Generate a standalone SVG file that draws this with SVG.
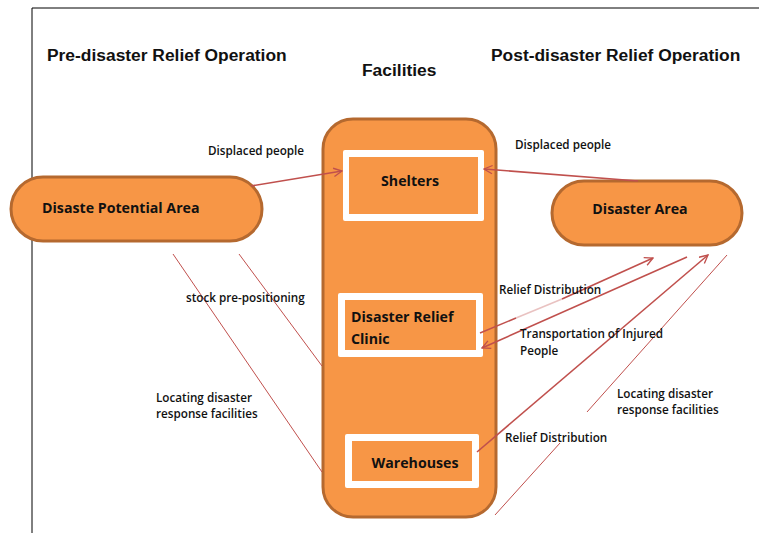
<svg xmlns="http://www.w3.org/2000/svg" width="759" height="533" viewBox="0 0 759 533">
<style>
.title{font-family:"Liberation Sans",Arial,sans-serif;font-weight:bold;font-size:17.4px;fill:#111}
.node{fill:#F79646;stroke:#B5692F;stroke-width:3}
.white{fill:#FFFFFF}
.inner{fill:#F79646}
.ntext{font-family:"Open Sans","Liberation Sans",sans-serif;font-weight:bold;font-size:14.2px;fill:#111}
.lbl{font-family:"Open Sans","Liberation Sans",sans-serif;font-weight:600;font-size:11.7px;fill:#111}
.arr{stroke:#C0504D;stroke-width:1.6;fill:none}
.thin{stroke:#C0504D;stroke-width:1;fill:none}
</style>
<defs>
<marker id="ah" viewBox="0 0 12 12" refX="11" refY="6" markerWidth="10" markerHeight="10" markerUnits="userSpaceOnUse" orient="auto">
<path d="M1,1 L11,6 L1,11" fill="none" stroke="#C0504D" stroke-width="1.6"/>
</marker>
</defs>
<rect width="759" height="533" fill="#FFFFFF"/>
<g id="frame">
<line x1="32" y1="8" x2="759" y2="8" stroke="#000" stroke-width="1"/>
<line x1="32" y1="8" x2="32" y2="533" stroke="#000" stroke-width="1"/>
</g>
<g id="titles">
<text class="title" x="47" y="61">Pre-disaster Relief Operation</text>
<text class="title" x="362" y="76">Facilities</text>
<text class="title" x="491" y="61">Post-disaster Relief Operation</text>
</g>
<g id="facilities">
<rect class="node" x="323" y="119" width="173" height="398" rx="30" ry="30"/>
</g>
<g id="shelters">
<rect class="white" x="343" y="150" width="141" height="71" rx="2"/>
<rect class="inner" x="349" y="157" width="129" height="57"/>
<text class="ntext" x="410" y="186" text-anchor="middle">Shelters</text>
</g>
<g id="clinic">
<rect class="white" x="338" y="293" width="145" height="64" rx="2"/>
<rect class="inner" x="345" y="300" width="131" height="50"/>
<text class="ntext" x="351" y="322">Disaster Relief</text>
<text class="ntext" x="351" y="344">Clinic</text>
</g>
<g id="warehouses">
<rect class="white" x="345" y="434" width="134" height="54" rx="2"/>
<rect class="inner" x="352" y="441" width="120" height="40"/>
<text class="ntext" x="415" y="468" text-anchor="middle">Warehouses</text>
</g>
<g id="potential">
<rect class="node" x="11" y="177" width="251" height="64" rx="32" ry="32"/>
<text class="ntext" x="42" y="213">Disaste Potential Area</text>
</g>
<g id="disaster">
<rect class="node" x="552" y="181" width="190" height="64" rx="32" ry="32"/>
<text class="ntext" x="640" y="214" text-anchor="middle">Disaster Area</text>
</g>
<g id="connectors">
<line class="arr" x1="251" y1="186" x2="342" y2="171" marker-end="url(#ah)"/>
<line class="arr" x1="638" y1="181" x2="484" y2="169" marker-end="url(#ah)"/>
<line class="thin" x1="173" y1="254" x2="322" y2="472"/>
<line class="thin" x1="239" y1="254" x2="322" y2="366"/>
<line class="arr" x1="480" y1="333" x2="516" y2="318"/>
<line class="arr" x1="516" y1="318" x2="562" y2="299" stroke-opacity="0.35"/>
<line class="arr" x1="562" y1="299" x2="653" y2="258" marker-end="url(#ah)"/>
<line class="arr" x1="687" y1="257" x2="482" y2="348" marker-end="url(#ah)"/>
<line class="arr" x1="477" y1="452" x2="708" y2="255" marker-end="url(#ah)"/>
<line class="thin" x1="727" y1="255" x2="587" y2="412"/>
<line class="thin" x1="560" y1="443" x2="495" y2="515"/>
</g>
<g id="labels">
<text class="lbl" x="208" y="155">Displaced people</text>
<text class="lbl" x="515" y="149">Displaced people</text>
<text class="lbl" x="186" y="302">stock pre-positioning</text>
<text class="lbl" x="156" y="402">Locating disaster</text>
<text class="lbl" x="156" y="418">response facilities</text>
<text class="lbl" x="499" y="294">Relief Distribution</text>
<text class="lbl" x="520" y="338">Transportation of Injured</text>
<text class="lbl" x="520" y="355">People</text>
<text class="lbl" x="617" y="398">Locating disaster</text>
<text class="lbl" x="617" y="414">response facilities</text>
<text class="lbl" x="505" y="442">Relief Distribution</text>
</g>
</svg>
